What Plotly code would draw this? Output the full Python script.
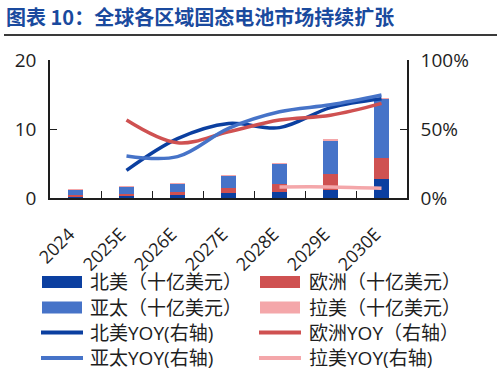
import plotly.graph_objects as go

years = ["2024", "2025E", "2026E", "2027E", "2028E", "2029E", "2030E"]
# market size, billion USD
na_size = [0.2, 0.35, 0.5, 0.7, 0.9, 1.2, 2.8]
eu_size = [0.2, 0.3, 0.4, 0.7, 1.2, 2.3, 3.0]
ap_size = [0.8, 0.95, 1.2, 1.8, 2.9, 4.9, 8.6]
la_size = [0.01, 0.01, 0.02, 0.02, 0.03, 0.03, 0.05]
# YOY, %
na_yoy = [None, 20, 43, 54, 51, 65.5, 72]
eu_yoy = [None, 56.5, 40, 48, 56.5, 60, 68.6]
ap_yoy = [None, 30.5, 30, 50.5, 62.5, 67.5, 74.6]
la_yoy = [None, None, None, None, 8, 8, 7]

C_NA = "#0b3fa0"
C_EU = "#cf5151"
C_AP = "#4673c8"
C_LA = "#f4a7aa"

fig = go.Figure()
for name, vals, col in [("北美（十亿美元）", na_size, C_NA), ("欧洲（十亿美元）", eu_size, C_EU),
                        ("亚太（十亿美元）", ap_size, C_AP), ("拉美（十亿美元）", la_size, C_LA)]:
    fig.add_trace(go.Bar(x=years, y=vals, name=name, marker=dict(color=col, line=dict(width=0)),
                         width=0.31, showlegend=False))

for name, vals, col in [("北美YOY(右轴)", na_yoy, C_NA), ("欧洲YOY（右轴）", eu_yoy, C_EU),
                        ("亚太YOY(右轴)", ap_yoy, C_AP), ("拉美YOY(右轴)", la_yoy, C_LA)]:
    fig.add_trace(go.Scatter(x=years, y=vals, name=name, mode="lines", yaxis="y2",
                             line=dict(color=col, width=3.5, shape="spline", smoothing=1.0),
                             showlegend=False))

W, H = 497, 378
L, R, T, B = 50, 407, 60, 198

def px(x):
    return (x - L) / (R - L)

def py(y):
    return (B - y) / (B - T)

shapes = []
annotations = []
# title underline
shapes.append(dict(type="line", xref="paper", yref="paper", x0=px(4), x1=px(497), y0=py(35), y1=py(35),
                   line=dict(color="#3a3a3a", width=2)))
annotations.append(dict(text="<b>图表 10：全球各区域固态电池市场持续扩张</b>", xref="paper", yref="paper",
                        x=px(4), y=py(17), xanchor="left", yanchor="middle", showarrow=False,
                        font=dict(size=20, color="#1a4a9e", family="Noto Sans CJK SC")))

legend_items = [
    ("北美（十亿美元）", C_NA, "bar", 0, 0), ("欧洲（十亿美元）", C_EU, "bar", 1, 0),
    ("亚太（十亿美元）", C_AP, "bar", 0, 1), ("拉美（十亿美元）", C_LA, "bar", 1, 1),
    ("北美YOY(右轴)", C_NA, "line", 0, 2), ("欧洲YOY（右轴）", C_EU, "line", 1, 2),
    ("亚太YOY(右轴)", C_AP, "line", 0, 3), ("拉美YOY(右轴)", C_LA, "line", 1, 3),
]
row_y = [282, 307.5, 332.5, 358]
col_sym = [(42, 82), (260, 300)]
col_txt = [88, 307]
for text, col, kind, c, r in legend_items:
    yc = row_y[r]
    x0, x1 = col_sym[c]
    if kind == "bar":
        shapes.append(dict(type="rect", xref="paper", yref="paper", x0=px(x0), x1=px(x1),
                           y0=py(yc - 6), y1=py(yc + 6), fillcolor=col, line=dict(width=0)))
    else:
        shapes.append(dict(type="line", xref="paper", yref="paper", x0=px(x0 - 1), x1=px(x1 + 1),
                           y0=py(yc), y1=py(yc), line=dict(color=col, width=4)))
    annotations.append(dict(text=text, xref="paper", yref="paper", x=px(col_txt[c]), y=py(yc),
                            xanchor="left", yanchor="middle", showarrow=False,
                            font=dict(size=19, color="#1e1e1e")))

fig.update_layout(
    width=W, height=H,
    margin=dict(l=L, r=W - R, t=T, b=H - B, pad=0),
    barmode="stack",
    plot_bgcolor="white", paper_bgcolor="white",
    font=dict(family="Open Sans, Noto Sans CJK SC", color="#1e1e1e", size=17),
    xaxis=dict(type="category", showline=True, linecolor="#1e1e1e", linewidth=1.5,
               ticks="inside", tickson="boundaries", ticklen=7, tickcolor="#1e1e1e", tickwidth=1.2,
               tickangle=-45, tickfont=dict(size=18), showgrid=False, zeroline=False,
               ticklabelstandoff=17, ticklabelshift=-6),
    yaxis=dict(range=[0, 20], tickvals=[0, 10, 20], showline=True, linecolor="#1e1e1e", linewidth=1.5,
               ticks="inside", ticklen=7, tickcolor="#1e1e1e", tickwidth=1.2, showgrid=False,
               zeroline=False, tickfont=dict(size=19), ticklabelstandoff=8),
    yaxis2=dict(range=[0, 100], tickvals=[0, 50, 100], ticktext=["0%", "50%", "100%"],
                overlaying="y", side="right", anchor="x", showline=True, linecolor="#1e1e1e",
                linewidth=1.5, ticks="inside", ticklen=7, tickcolor="#1e1e1e", tickwidth=1.2,
                showgrid=False, zeroline=False, tickfont=dict(size=19), ticklabelstandoff=8),
    shapes=shapes, annotations=annotations, showlegend=False,
)

fig.write_html("out.html", config={"displayModeBar": False},
               post_script="document.body.style.margin='0';document.body.style.overflow='hidden';")
